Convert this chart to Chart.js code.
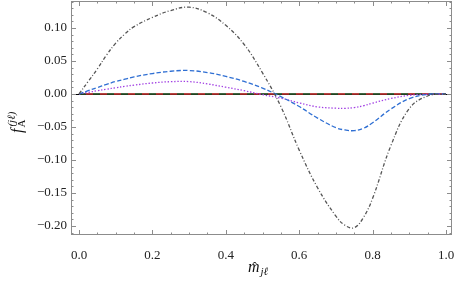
<!DOCTYPE html>
<html>
<head>
<meta charset="utf-8">
<title>f_A(jl) vs m_jl</title>
<script src="https://cdn.jsdelivr.net/npm/chart.js@4.4.1/dist/chart.umd.min.js"></script>
<style>
  html, body { margin: 0; padding: 0; background: #fff; }
  #wrap { width: 454px; height: 289px; position: relative; }
</style>
</head>
<body>
<div id="wrap"><canvas id="chart"></canvas></div>
<script>
// m-hat_{j l} sample points (x axis)
const mHat = [0, 0.025, 0.05, 0.075, 0.1, 0.125, 0.15, 0.2, 0.25, 0.3, 0.35, 0.4, 0.45, 0.5, 0.55, 0.6,
  0.65, 0.7, 0.725, 0.75, 0.775, 0.8, 0.85, 0.9, 0.95, 1.0];

// curves
const grayDotDash = [0, 0.019, 0.038, 0.059, 0.077, 0.091, 0.102, 0.116, 0.1265, 0.1315, 0.123, 0.104, 0.075, 0.032,
  -0.019, -0.085, -0.142, -0.185, -0.199, -0.2025, -0.187, -0.158, -0.078, -0.022, -0.003, 0];
const blueDashed = [0, 0.005, 0.0098, 0.0145, 0.019, 0.0225, 0.026, 0.031, 0.0345, 0.0356, 0.0325, 0.0267, 0.019, 0.009,
  -0.004, -0.019, -0.0365, -0.051, -0.0545, -0.0555, -0.052, -0.0435, -0.0227, -0.007, -0.0005, 0];
const purpleDotted = [0, 0.0025, 0.005, 0.0073, 0.0095, 0.0117, 0.0135, 0.0167, 0.0187, 0.0188, 0.0152, 0.0103, 0.005, -0.001,
  -0.0062, -0.0135, -0.0195, -0.0215, -0.0217, -0.0205, -0.0178, -0.0138, -0.0068, -0.002, -0.0004, 0];
const flatZero = mHat.map(() => 0); // the three curves lying on zero

const xTicks = [0, 0.2, 0.4, 0.6, 0.8, 1.0];
const yTicks = [-0.20, -0.15, -0.10, -0.05, 0, 0.05, 0.10];

Chart.defaults.font.family = "'Liberation Serif', serif";
Chart.defaults.font.size = 13;
Chart.defaults.color = "#222";

function pts(ys) {
  return mHat.map((x, i) => ({ x, y: ys[i] }));
}

function line(label, ys, color, dash, order, extra) {
  return Object.assign({
    label,
    data: pts(ys),
    borderColor: color,
    borderWidth: 1.3,
    borderDash: dash,
    pointRadius: 0,
    tension: 0.4,
    fill: false,
    order,
  }, extra || {});
}

// ---------- frame with inward ticks + math axis titles ----------
const framePlugin = {
  id: "frame",
  afterDraw(chart) {
    const { ctx, chartArea: a, scales } = chart;
    const xs = scales.x, ys = scales.y;
    ctx.save();
    ctx.strokeStyle = "#8c8c8c";
    ctx.lineWidth = 1;
    ctx.strokeRect(a.left + 0.5, a.top + 0.5, a.right - a.left - 1, a.bottom - a.top - 1);

    ctx.beginPath();
    for (let i = 0; i <= 20; i++) {
      const v = i * 0.05;
      const px = Math.round(xs.getPixelForValue(v)) + 0.5;
      const len = i % 4 === 0 ? 5 : 2.5;
      ctx.moveTo(px, a.bottom); ctx.lineTo(px, a.bottom - len);
      ctx.moveTo(px, a.top); ctx.lineTo(px, a.top + len);
    }
    for (let i = -21; i <= 14; i++) {
      const v = i * 0.01;
      const py = Math.round(ys.getPixelForValue(v)) + 0.5;
      if (py < a.top || py > a.bottom) continue;
      const len = i % 5 === 0 ? 5 : 2.5;
      ctx.moveTo(a.left, py); ctx.lineTo(a.left + len, py);
      ctx.moveTo(a.right, py); ctx.lineTo(a.right - len, py);
    }
    ctx.stroke();

    // x title: m-hat with subscript j-ell
    ctx.fillStyle = "#111";
    ctx.textBaseline = "alphabetic";
    ctx.textAlign = "left";
    ctx.font = "italic 16px 'Liberation Serif'";
    const mx = 248, my = 272;
    const mw = ctx.measureText("m").width;
    ctx.fillText("m", mx, my);
    ctx.font = "13px 'Liberation Serif'";
    ctx.textAlign = "center";
    ctx.fillText("\u02C6", mx + mw / 2 + 1, my - 1);
    ctx.textAlign = "left";
    ctx.font = "italic 11px 'Liberation Serif'";
    ctx.fillText("j\u2113", mx + mw + 1, my + 3);

    // y title: f_A^{(j ell)} rotated
    ctx.translate(22, 133);
    ctx.rotate(-Math.PI / 2);
    ctx.font = "italic 16px 'Liberation Serif'";
    const fw = ctx.measureText("f").width;
    ctx.fillText("f", 0, 0);
    ctx.font = "11px 'Liberation Serif'";
    ctx.fillText("A", fw + 1, 3);
    ctx.font = "italic 11px 'Liberation Serif'";
    ctx.fillText("(j\u2113)", fw + 2, -7);
    ctx.restore();
  },
};

new Chart(document.getElementById("chart"), {
  type: "line",
  data: {
    datasets: [
      line("gray dot-dashed", grayDotDash, "#555555", [3.5, 2, 1, 2], 1),
      line("blue dashed", blueDashed, "#2f6fd3", [4.5, 2.2], 2),
      line("purple dotted", purpleDotted, "#a13fe3", [1.4, 1.8], 3),
      line("red dashed", flatZero, "#c8302c", [7, 7], 4, { borderDashOffset: 7, tension: 0 }),
      line("green dashed", flatZero, "#2d5a2b", [7, 7], 5, { tension: 0 }),
      line("black", flatZero, "#000000", [], 6, { borderWidth: 1, tension: 0 }),
    ],
  },
  options: {
    responsive: true,
    maintainAspectRatio: false,
    animation: false,
    layout: { padding: { top: 1, right: 2, left: 0, bottom: 0 } },
    plugins: { legend: { display: false }, tooltip: { enabled: false } },
    scales: {
      x: {
        type: "linear",
        min: -0.0218,
        max: 1.0163,
        afterBuildTicks: (s) => { s.ticks = xTicks.map((v) => ({ value: v })); },
        afterFit: (s) => { s.height = 54; s.paddingLeft = 0; s.paddingRight = 0; },
        grid: { display: false },
        border: { display: false },
        ticks: { padding: 5, maxRotation: 0, callback: (v) => Number(v).toFixed(1) },
      },
      y: {
        min: -0.2136,
        max: 0.1409,
        afterBuildTicks: (s) => { s.ticks = yTicks.map((v) => ({ value: v })); },
        afterFit: (s) => { s.width = 71; s.paddingTop = 0; s.paddingBottom = 0; },
        grid: {
          drawTicks: false,
          lineWidth: 1,
          color: (c) => (c.tick && Math.abs(c.tick.value) < 1e-9 ? "#000" : "rgba(0,0,0,0)"),
        },
        border: { display: false },
        ticks: {
          padding: 4,
          callback: (v) => {
            const s = Math.abs(v).toFixed(2);
            return v < -1e-9 ? "\u2212" + s : s;
          },
        },
      },
    },
  },
  plugins: [framePlugin],
});
</script>
</body>
</html>
